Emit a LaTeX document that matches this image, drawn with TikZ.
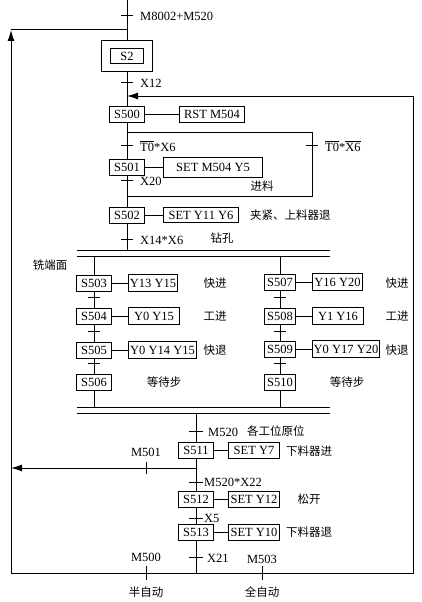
\documentclass[tikz,border=0pt]{standalone}
\usepackage{fontspec}
\setmainfont{Liberation Serif}
\newfontfamily\cjk{Noto Sans CJK SC}
\usetikzlibrary{arrows.meta}
\begin{document}
\begin{tikzpicture}[x=1pt,y=-1pt,
  every node/.style={font=\fontsize{12.5}{14}\selectfont},
  ln/.style={line width=1pt},
  st/.style={draw, line width=1pt, minimum width=35pt, minimum height=16pt, inner sep=0pt},
  act/.style={draw, line width=1pt, minimum height=16pt, inner sep=0pt, anchor=west},
  lbl/.style={anchor=west, inner sep=0pt},
  lblc/.style={inner sep=0pt},
  zh/.style={font=\cjk\fontsize{11.5}{13}\selectfont, inner sep=0pt},
  arr/.style={-{Latex[length=11pt,width=7pt]}, line width=1pt}
]
\useasboundingbox (0,0) rectangle (421,602);

% ---------- coordinates ----------
\coordinate (top) at (127,0);
\coordinate (j1) at (127,30);
\coordinate (lc) at (11,30);
\coordinate (bl) at (11,573);
\coordinate (bm) at (196,573);
\coordinate (br) at (413,573);
\coordinate (tr) at (413,96);
\coordinate (rj) at (127,96);
\coordinate (lp1) at (127,132);
\coordinate (lp2) at (312,132);
\coordinate (lp3) at (312,196);
\coordinate (lp4) at (127,196);
\coordinate (dt) at (127,250);
\coordinate (d1a) at (77,250);
\coordinate (d1b) at (330,250);
\coordinate (d2a) at (77,256);
\coordinate (d2b) at (330,256);
\coordinate (d3a) at (77,407);
\coordinate (d3b) at (330,407);
\coordinate (d4a) at (77,413);
\coordinate (d4b) at (330,413);
\coordinate (lbt) at (94,256);
\coordinate (lbb) at (94,407);
\coordinate (rbt) at (280,256);
\coordinate (rbb) at (280,407);
\coordinate (lt) at (196,413);
\coordinate (aj) at (196,468);
\coordinate (al) at (11,468);

% ---------- steps ----------
\node[st, minimum width=51pt, minimum height=31pt] (S2o) at (127,56) {};
\node[st, minimum width=33pt, minimum height=15pt] (S2) at (127,56) {S2};
\node[st] (S500) at (127,114) {S500};
\node[st] (S501) at (127,167) {S501};
\node[st] (S502) at (127,215) {S502};
\node[st] (S503) at (94,283) {S503};
\node[st] (S504) at (94,316) {S504};
\node[st] (S505) at (94,350) {S505};
\node[st] (S506) at (94,382) {S506};
\node[st, minimum width=31pt] (S507) at (280,282) {S507};
\node[st, minimum width=31pt] (S508) at (280,316) {S508};
\node[st, minimum width=31pt] (S509) at (280,349) {S509};
\node[st, minimum width=31pt] (S510) at (280,382) {S510};
\node[st] (S511) at (196,450) {S511};
\node[st] (S512) at (196,499) {S512};
\node[st] (S513) at (196,532) {S513};

% ---------- actions ----------
\node[act, minimum width=65pt] (A500) at (179,114) {RST M504};
\node[act, minimum width=99pt, minimum height=20pt] (A501) at (163,167) {SET M504 Y5};
\node[act, minimum width=75pt, minimum height=15pt] (A502) at (163,215) {SET Y11 Y6};
\node[act, minimum width=49pt, minimum height=17pt] (A503) at (128,283) {Y13 Y15};
\node[act, minimum width=51pt, minimum height=17pt] (A504) at (128,316) {Y0 Y15};
\node[act, minimum width=68pt, minimum height=17pt] (A505) at (128,350) {Y0 Y14 Y15};
\node[act, minimum width=50pt, minimum height=17pt] (A507) at (312,282) {Y16 Y20};
\node[act, minimum width=51pt, minimum height=17pt] (A508) at (312,316) {Y1 Y16};
\node[act, minimum width=67pt, minimum height=17pt] (A509) at (312,349) {Y0 Y17 Y20};
\node[act, minimum width=51pt] (A511) at (228,450) {SET Y7};
\node[act, minimum width=51pt] (A512) at (228,499) {SET Y12};
\node[act, minimum width=51pt] (A513) at (228,532) {SET Y10};

% ---------- main flow ----------
\draw[ln] (top) -- (S2o.north);
\draw[ln] (S2o.south) -- (S500.north);
\draw[ln] (S500.south) -- (S501.north);
\draw[ln] (S501.south) -- (S502.north);
\draw[ln] (S502.south) -- (dt);
\draw[ln] (d1a) -- (d1b);
\draw[ln] (d2a) -- (d2b);
\draw[ln] (d3a) -- (d3b);
\draw[ln] (d4a) -- (d4b);
\draw[ln] (lbt) -- (S503.north);
\draw[ln] (S503.south) -- (S504.north);
\draw[ln] (S504.south) -- (S505.north);
\draw[ln] (S505.south) -- (S506.north);
\draw[ln] (S506.south) -- (lbb);
\draw[ln] (rbt) -- (S507.north);
\draw[ln] (S507.south) -- (S508.north);
\draw[ln] (S508.south) -- (S509.north);
\draw[ln] (S509.south) -- (S510.north);
\draw[ln] (S510.south) -- (rbb);
\draw[ln] (lt) -- (S511.north);
\draw[ln] (S511.south) -- (S512.north);
\draw[ln] (S512.south) -- (S513.north);
\draw[ln] (S513.south) -- (bm);

% actions links
\foreach \s in {500,501,502,503,504,505,507,508,509,511,512,513}
  \draw[ln] (S\s.east) -- (A\s.west);

% loops
\draw[arr] (bl) -- (lc);
\draw[ln] (lc) -- (j1);
\draw[ln] (bl) -- (br) -- (tr);
\draw[arr] (tr) -- (rj);
\draw[ln] (lp1) -- (lp2) -- (lp3) -- (lp4);
\draw[arr] (aj) -- (al);

% ---------- ticks ----------
\foreach \y in {16,82,145,180,239} \draw[ln] (121,\y) -- (133,\y);
\draw[ln] (306,145) -- (318,145);
\foreach \y in {297,331,363} {\draw[ln] (88,\y) -- (100,\y); \draw[ln] (274,\y) -- (286,\y);}
\foreach \y in {431,482,518,557} \draw[ln] (189,\y) -- (203,\y);
\draw[ln] (146,462) -- (146,474);
\draw[ln] (146,566) -- (146,580);
\draw[ln] (262,566) -- (262,580);

% ---------- labels ----------
\node[lbl] at (140,16) {M8002+M520};
\node[lbl] at (140,83) {X12};
\node[lbl] at (140,146) {$\overline{\hbox{T0}}$*X6};
\node[lbl] at (325,146) {$\overline{\hbox{T0}}$*$\overline{\hbox{X6}}$};
\node[lbl] at (140,181) {X20};
\node[zh] at (262,186) {进料};
\node[zh, anchor=west] at (250,215) {夹紧、上料器退};
\node[lbl] at (140,240) {X14*X6};
\node[zh] at (222,238) {钻孔};
\node[zh] at (50,265) {铣端面};
\node[zh] at (215,283) {快进};
\node[zh] at (215,316) {工进};
\node[zh] at (215,350) {快退};
\node[zh] at (397,283) {快进};
\node[zh] at (397,316) {工进};
\node[zh] at (397,350) {快退};
\node[zh] at (164,382) {等待步};
\node[zh] at (347,382) {等待步};
\node[lbl] at (208,432) {M520};
\node[zh, anchor=west] at (247,431) {各工位原位};
\node[zh, anchor=west] at (286,451) {下料器进};
\node[lblc] at (146,452) {M501};
\node[lbl] at (204,482) {M520*X22};
\node[zh] at (309,499) {松开};
\node[lbl] at (204,518) {X5};
\node[zh, anchor=west] at (286,532) {下料器退};
\node[lbl] at (207,558) {X21};
\node[lblc] at (146,557) {M500};
\node[zh] at (146,592) {半自动};
\node[lblc] at (262,559) {M503};
\node[zh] at (262,592) {全自动};
\end{tikzpicture}
\end{document}
